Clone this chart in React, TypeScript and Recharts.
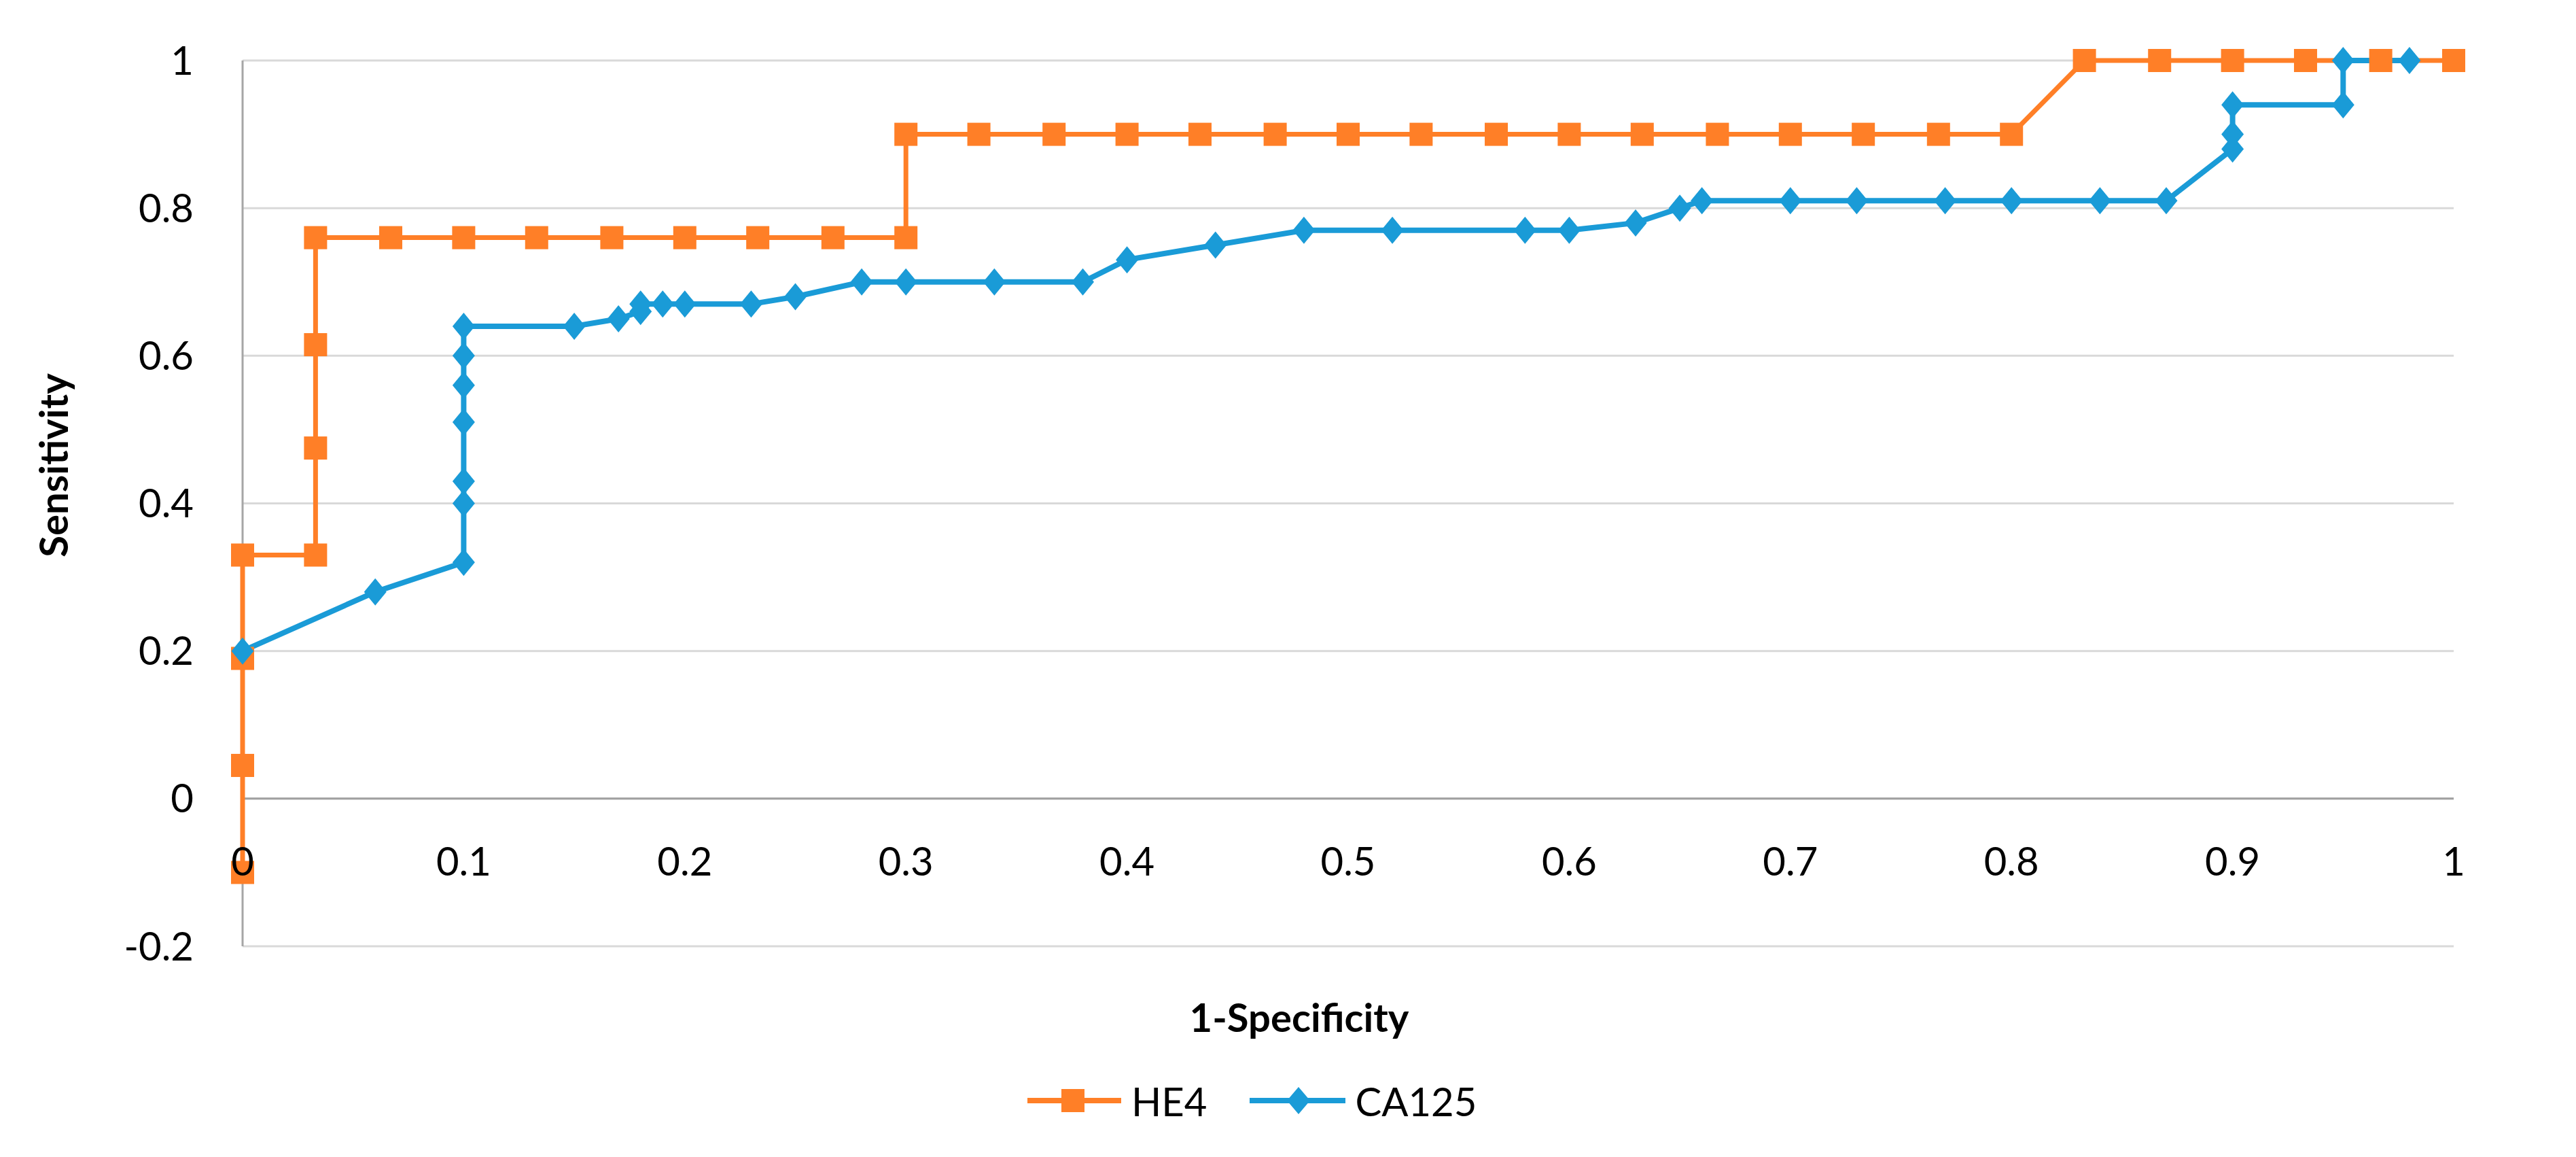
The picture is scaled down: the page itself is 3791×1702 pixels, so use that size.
import {
  ScatterChart, Scatter, XAxis, YAxis, CartesianGrid, ReferenceLine, Legend, Label,
} from 'recharts'

// ROC curve points (1-Specificity, Sensitivity)
const he4X = [
  0, 0, 0, 0, 0.033, 0.033, 0.033, 0.033, 0.067, 0.1, 0.133, 0.167, 0.2, 0.233, 0.267, 0.3,
  0.3, 0.333, 0.367, 0.4, 0.433, 0.467, 0.5, 0.533, 0.567, 0.6, 0.633, 0.667, 0.7, 0.733, 0.767, 0.8,
  0.833, 0.867, 0.9, 0.933, 0.967, 1,
]
const he4Y = [
  -0.1, 0.045, 0.19, 0.33, 0.33, 0.475, 0.615, 0.76, 0.76, 0.76, 0.76, 0.76, 0.76, 0.76, 0.76, 0.76,
  0.9, 0.9, 0.9, 0.9, 0.9, 0.9, 0.9, 0.9, 0.9, 0.9, 0.9, 0.9, 0.9, 0.9, 0.9, 0.9,
  1, 1, 1, 1, 1, 1,
]
const ca125X = [
  0, 0.06, 0.1, 0.1, 0.1, 0.1, 0.1, 0.1, 0.1, 0.15, 0.17, 0.18, 0.18, 0.19, 0.2, 0.23, 0.25, 0.28, 0.3,
  0.34, 0.38, 0.4, 0.44, 0.48, 0.52, 0.58, 0.6, 0.63, 0.65, 0.66, 0.7, 0.73, 0.77, 0.8, 0.84, 0.87,
  0.9, 0.9, 0.9, 0.95, 0.95, 0.98,
]
const ca125Y = [
  0.2, 0.28, 0.32, 0.4, 0.43, 0.51, 0.56, 0.6, 0.64, 0.64, 0.65, 0.66, 0.67, 0.67, 0.67, 0.67, 0.68, 0.7, 0.7,
  0.7, 0.7, 0.73, 0.75, 0.77, 0.77, 0.77, 0.77, 0.78, 0.8, 0.81, 0.81, 0.81, 0.81, 0.81, 0.81, 0.81,
  0.88, 0.9, 0.94, 0.94, 1, 1,
]
const xTicks = [0, 0.1, 0.2, 0.3, 0.4, 0.5, 0.6, 0.7, 0.8, 0.9, 1]
const yTicks = [-0.2, 0, 0.2, 0.4, 0.6, 0.8, 1]

const ORANGE = '#FF7F27'
const BLUE = '#1A9BD7'
const FONT = 'Lato, sans-serif'

const he4 = he4X.map((x, i) => ({ x, y: he4Y[i] }))
const ca125 = ca125X.map((x, i) => ({ x, y: ca125Y[i] }))

const Square = (p: any) => <rect x={p.cx - 17} y={p.cy - 17} width={34} height={34} fill={ORANGE} />
const Diamond = (p: any) => (
  <path d={`M${p.cx},${p.cy - 20}L${p.cx + 16.5},${p.cy}L${p.cx},${p.cy + 20}L${p.cx - 16.5},${p.cy}Z`} fill={BLUE} />
)
const NoMark = () => <g />

// x tick labels sit just under the y=0 line, not at the plot bottom
const XTick = ({ x, y, payload }: any) => (
  <text x={x} y={y - 127} textAnchor="middle" dominantBaseline="central" fontFamily={FONT} fontSize={58} fill="#000">
    {payload.value}
  </text>
)

function LegendBox() {
  return (
    <div style={{ display: 'flex', alignItems: 'center', height: 60, paddingLeft: 1504, fontFamily: FONT, fontSize: 58, color: '#000' }}>
      <svg width={138} height={60}>
        <line x1={0} x2={138} y1={30} y2={30} stroke={ORANGE} strokeWidth={8} />
        <rect x={50} y={13} width={34} height={34} fill={ORANGE} />
      </svg>
      <span style={{ marginLeft: 15, marginRight: 63 }}>HE4</span>
      <svg width={141} height={60}>
        <line x1={0} x2={141} y1={30} y2={30} stroke={BLUE} strokeWidth={8} />
        <path d="M72,10L89,30L72,50L55,30Z" fill={BLUE} />
      </svg>
      <span style={{ marginLeft: 14 }}>CA125</span>
    </div>
  )
}

export default function App() {
  return (
    <div style={{ width: 3775, height: 1686 }}>
      <ScatterChart width={3775} height={1686} margin={{ top: 81, right: 172, left: 0, bottom: 45 }}>
        <CartesianGrid vertical={false} stroke="#D9D9D9" strokeWidth={3} />
        <XAxis
          type="number"
          dataKey="x"
          domain={[0, 1]}
          ticks={xTicks}
          axisLine={false}
          tickLine={false}
          tickSize={0}
          tickMargin={0}
          height={197}
          tick={<XTick />}
          interval={0}
        >
          <Label
            content={({ viewBox }: any) => (
              <text
                x={viewBox.x + viewBox.width / 2 - 72}
                y={viewBox.y + 103}
                textAnchor="middle"
                dominantBaseline="central"
                fontFamily={FONT}
                fontSize={58}
                fontWeight="bold"
                fill="#000"
              >
                1-Specificity
              </text>
            )}
          />
        </XAxis>
        <YAxis
          type="number"
          dataKey="y"
          domain={[-0.2, 1]}
          ticks={yTicks}
          width={349}
          axisLine={{ stroke: '#A6A6A6', strokeWidth: 3 }}
          tickLine={false}
          tickSize={0}
          tickMargin={72}
          interval={0}
          tick={{ fontFamily: FONT, fontSize: 58, fill: '#000' }}
        >
          <Label
            content={({ viewBox }: any) => {
              const cx = viewBox.x + 69
              const cy = viewBox.y + viewBox.height / 2 - 56
              return (
                <text
                  x={cx}
                  y={cy}
                  transform={`rotate(-90, ${cx}, ${cy})`}
                  textAnchor="middle"
                  dominantBaseline="central"
                  fontFamily={FONT}
                  fontSize={58}
                  fontWeight="bold"
                  fill="#000"
                >
                  Sensitivity
                </text>
              )
            }}
          />
        </YAxis>
        <ReferenceLine y={0} stroke="#A0A0A0" strokeWidth={3} ifOverflow="extendDomain" />
        <Legend verticalAlign="bottom" wrapperStyle={{ left: 0, width: 3775 }} content={() => <LegendBox />} />
        {/* lines first, markers on top, like the original */}
        <Scatter name="HE4 line" data={he4} line={{ stroke: ORANGE, strokeWidth: 7 }} shape={NoMark} legendType="none" isAnimationActive={false} />
        <Scatter name="CA125 line" data={ca125} line={{ stroke: BLUE, strokeWidth: 8 }} shape={NoMark} legendType="none" isAnimationActive={false} />
        <Scatter name="HE4" data={he4} shape={Square} fill={ORANGE} isAnimationActive={false} />
        <Scatter name="CA125" data={ca125} shape={Diamond} fill={BLUE} isAnimationActive={false} />
      </ScatterChart>
    </div>
  )
}
